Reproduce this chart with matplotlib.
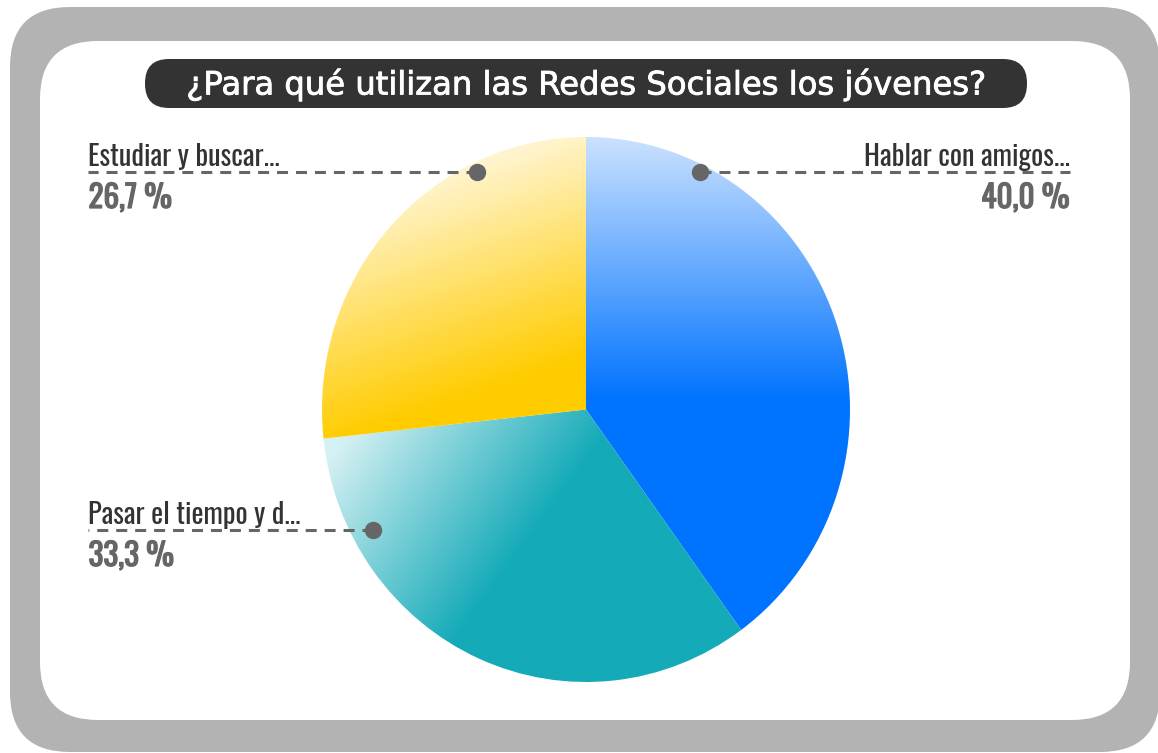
import matplotlib
matplotlib.use('Agg')
import matplotlib.pyplot as plt
import matplotlib.patheffects as pe
import numpy as np
from matplotlib.patches import FancyBboxPatch
from matplotlib.colors import LinearSegmentedColormap

# data
categories = ['Hablar con amigos...', 'Pasar el tiempo y d...', 'Estudiar y buscar...']
values = [40.0, 33.3, 26.7]
pct_labels = ['40,0 %', '33,3 %', '26,7 %']
title = '¿Para qué utilizan las Redes Sociales los jóvenes?'

W, H = 1158, 753
fig = plt.figure(figsize=(W / 100, H / 100), dpi=100)
ax = fig.add_axes([0, 0, 1, 1])
ax.set_xlim(0, W)
ax.set_ylim(0, H)
ax.axis('off')


def Y(y):
    # image rows -> data y
    return H - y


# frame
outer = FancyBboxPatch((10 + 60, Y(752) + 60), 1150 - 120, 745 - 120,
                       boxstyle='round,pad=60', fc='#b3b3b3', ec='none')
ax.add_patch(outer)
inner = FancyBboxPatch((40 + 58, Y(720) + 58), 1090 - 116, 679 - 116,
                       boxstyle='round,pad=58', fc='white', ec='none')
ax.add_patch(inner)

# title pill
pill = FancyBboxPatch((145 + 24, Y(108) + 24), 882 - 48, 49 - 48,
                      boxstyle='round,pad=24', fc='#333333', ec='none')
ax.add_patch(pill)
ax.text(586, Y(85), title, color='white', fontsize=23.2, ha='center', va='center',
        family=['DejaVu Sans'],
        path_effects=[pe.withStroke(linewidth=0.6, foreground='white')])

# pie in its own axes (slightly taller than wide, like the reference)
pl, pt, pr, pb = 322, 137, 850, 682
pax = fig.add_axes([pl / W, 1 - pb / H, (pr - pl) / W, (pb - pt) / H])
wedges, _ = pax.pie(values, center=(0, 0), radius=1, startangle=90,
                    counterclock=False, frame=True)
pax.set_aspect('auto')
pax.axis('off')

grads = [
    # (start point, end point, start color, end color) in image pixels
    ((586, 140), (586, 400), '#c8e0fe', '#0073ff'),
    ((330, 455), (500, 580), '#d6f1f3', '#14aab8'),
    ((470, 150), (545, 370), '#fff7dc', '#ffcc00'),
]
xs = np.linspace(pl, pr, 300)
ys = np.linspace(pt, pb, 300)
XX, YY = np.meshgrid(xs, ys)
for w, (p0, p1, c0, c1) in zip(wedges, grads):
    d = np.array([p1[0] - p0[0], p1[1] - p0[1]], dtype=float)
    t = ((XX - p0[0]) * d[0] + (YY - p0[1]) * d[1]) / (d @ d)
    t = np.clip(t, 0, 1)
    cmap = LinearSegmentedColormap.from_list('g', [c0, c1])
    w.set_facecolor('none')
    w.set_edgecolor('none')
    im = pax.imshow(t, cmap=cmap, extent=(-1, 1, -1, 1), origin='upper',
                    vmin=0, vmax=1, zorder=1, interpolation='bilinear',
                    aspect='auto')
    im.set_clip_path(w)
pax.set_xlim(-1, 1)
pax.set_ylim(-1, 1)

# overlay for leaders and labels (on top of the pie)
lax = fig.add_axes([0, 0, 1, 1])
lax.set_xlim(0, W)
lax.set_ylim(0, H)
lax.axis('off')
lax.patch.set_alpha(0)

lab_font = ['Oswald', 'Liberation Sans Narrow', 'DejaVu Sans']
dot_pts = [(700, 172), (373, 530), (477, 172)]
line_ends = [1070, 88, 88]
for i in range(3):
    dx, dy = dot_pts[i]
    lax.plot([dx, line_ends[i]], [Y(dy), Y(dy)], color='#666666', lw=2.2,
             linestyle=(0, (3.6, 2.6)), zorder=3, solid_capstyle='butt')
    lax.plot(dx, Y(dy), 'o', color='#666666', ms=11.5, zorder=4)
    right = line_ends[i] > dx
    ha = 'right' if right else 'left'
    lax.text(line_ends[i], Y(dy - 6), categories[i], fontsize=20.5, color='#333333',
             ha=ha, va='baseline', family=lab_font, zorder=5)
    lax.text(line_ends[i] + (-0.5 if right else 0.5), Y(dy + 36), pct_labels[i],
             fontsize=22.5, color='#666666', ha=ha, va='baseline', family=lab_font,
             zorder=5, path_effects=[pe.withStroke(linewidth=0.9, foreground='#666666')])

fig.savefig('out.png', dpi=100)
